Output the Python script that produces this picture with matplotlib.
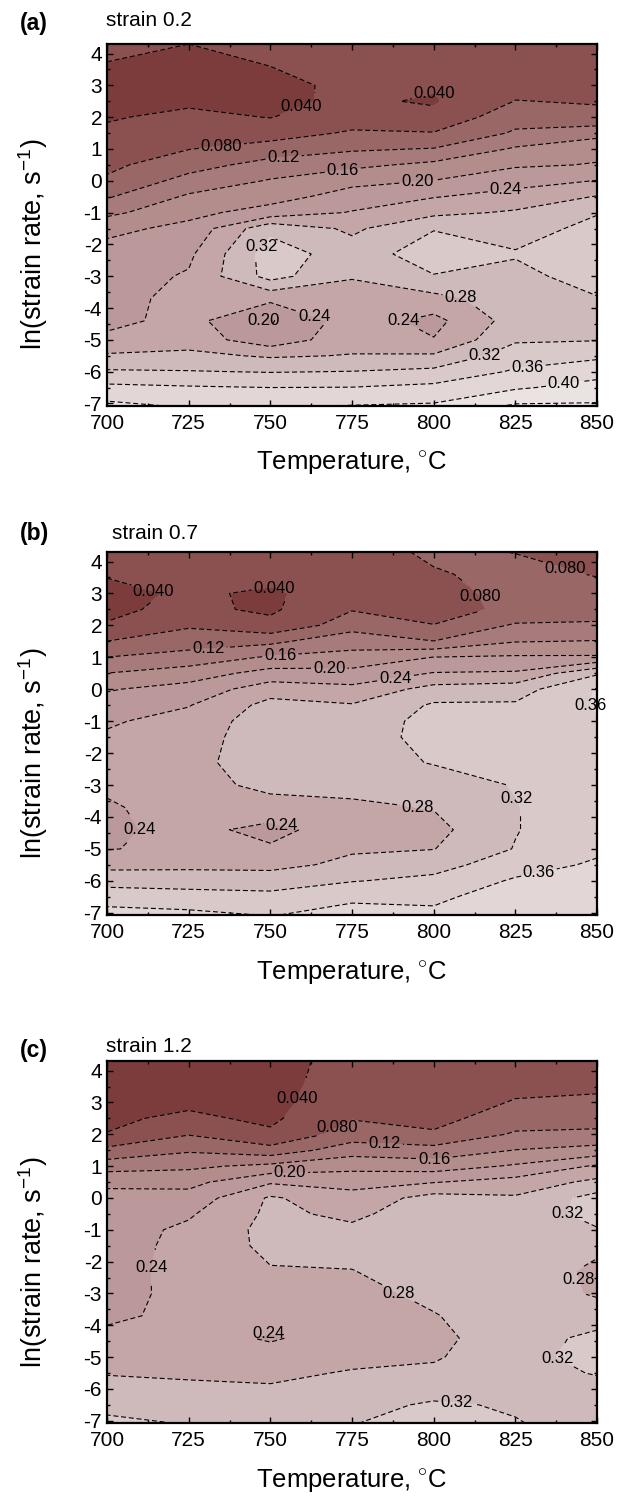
import numpy as np
import matplotlib
matplotlib.use("Agg")
import matplotlib.pyplot as plt
from matplotlib.ticker import MultipleLocator

plt.rcParams['font.family'] = ['Liberation Sans', 'DejaVu Sans']
plt.rcParams['mathtext.fontset'] = 'custom'
plt.rcParams['mathtext.rm'] = 'Liberation Sans'
plt.rcParams['axes.unicode_minus'] = False

# === Data (strain rate sensitivity m) ===
TEMPS = [700, 725, 750, 775, 800, 825, 850]
LN_RATE = [-7.07, -6.5, -6.0, -5.5, -5.0, -4.4, -3.7, -3.0, -2.3, -1.5, -1.0,
           -0.5, 0.0, 0.5, 1.0, 1.5, 2.0, 2.5, 3.0, 3.6, 4.3]

# columns are temperatures, listed from the top row (ln rate 4.3) down to -7.07
M_02_COLS = [
    [.048, .038, .032, .033, .037, .046, .058, .071, .086, .116, .150, .190, .215, .222, .226, .228, .250, .285, .325, .370, .410],
    [.040, .031, .027, .034, .048, .062, .079, .104, .134, .166, .190, .210, .232, .244, .252, .254, .262, .290, .322, .364, .395],
    [.046, .040, .034, .033, .039, .062, .098, .135, .163, .186, .215, .310, .340, .335, .250, .195, .215, .275, .318, .360, .395],
    [.050, .048, .045, .046, .060, .085, .115, .150, .190, .215, .243, .272, .300, .283, .262, .260, .265, .282, .321, .361, .401],
    [.055, .050, .044, .036, .050, .082, .122, .170, .201, .238, .270, .318, .340, .318, .268, .228, .242, .285, .330, .370, .405],
    [.062, .060, .068, .081, .105, .125, .165, .195, .225, .255, .285, .305, .323, .310, .300, .298, .315, .341, .365, .395, .445],
    [.065, .066, .070, .077, .090, .145, .190, .202, .241, .282, .318, .330, .345, .335, .318, .305, .318, .352, .385, .415, .445],
]
M_07_COLS = [
    [.050, .042, .032, .034, .042, .0805, .1205, .1605, .197, .215, .235, .245, .252, .247, .235, .232, .238, .268, .305, .342, .375],
    [.052, .048, .044, .048, .075, .102, .135, .180, .215, .238, .255, .262, .268, .266, .258, .252, .250, .270, .303, .335, .370],
    [.055, .048, .036, .034, .050, .110, .165, .215, .262, .293, .302, .303, .302, .290, .265, .228, .245, .268, .302, .330, .358],
    [.060, .058, .055, .078, .100, .150, .168, .215, .250, .283, .302, .305, .305, .293, .272, .262, .275, .290, .318, .352, .375],
    [.088, .076, .068, .066, .081, .121, .201, .242, .295, .325, .330, .330, .322, .302, .282, .268, .279, .305, .330, .355, .365],
    [.079, .092, .090, .088, .125, .158, .205, .245, .302, .325, .335, .341, .335, .322, .318, .318, .322, .342, .365, .372, .381],
    [.074, .078, .092, .105, .125, .162, .205, .315, .363, .363, .358, .356, .354, .352, .350, .350, .352, .366, .375, .381, .385],
]
M_12_COLS = [
    [.030, .028, .030, .034, .041, .090, .142, .193, .210, .218, .222, .225, .226, .228, .234, .248, .262, .278, .292, .310, .328],
    [.028, .027, .033, .047, .078, .115, .152, .188, .215, .235, .248, .250, .252, .250, .248, .255, .265, .274, .288, .305, .318],
    [.028, .030, .032, .033, .046, .095, .170, .235, .285, .288, .292, .290, .277, .265, .255, .236, .255, .272, .284, .302, .312],
    [.052, .054, .058, .078, .098, .142, .188, .225, .255, .272, .287, .292, .279, .268, .262, .258, .270, .283, .295, .308, .319],
    [.052, .054, .058, .068, .085, .135, .180, .238, .295, .302, .305, .303, .298, .289, .278, .270, .276, .288, .305, .325, .330],
    [.062, .068, .083, .100, .125, .161, .205, .255, .285, .302, .310, .312, .308, .304, .302, .302, .305, .308, .312, .316, .322],
    [.072, .074, .085, .105, .128, .175, .245, .290, .335, .330, .318, .290, .270, .275, .302, .330, .335, .322, .310, .305, .305],
]

STRAINS = ["strain 0.2", "strain 0.7", "strain 1.2"]
TAGS = ["(a)", "(b)", "(c)"]

LEVELS = [0.04, 0.08, 0.12, 0.16, 0.20, 0.24, 0.28, 0.32, 0.36, 0.40, 0.44]
LEVEL_FMT = {0.04: "0.040", 0.08: "0.080", 0.12: "0.12", 0.16: "0.16", 0.20: "0.20",
             0.24: "0.24", 0.28: "0.28", 0.32: "0.32", 0.36: "0.36", 0.40: "0.40", 0.44: "0.44"}

# label anchor points (T, ln rate) for each map
LABEL_POS = [
    [(759, 2.43), (800, 2.75), (735, 1.1), (754, 0.75), (772, 0.45), (795, -0.05),
     (822, -0.24), (750, -2.3), (765, -3.85), (744, -4.44), (785, -4.44),
     (808, -3.77), (816, -5.6), (829, -6.13), (840, -6.5)],
    [(714, 3.0), (751, 3.13), (811, 2.75), (840, 3.75), (731, 1.39), (753, 1.12),
     (768, 0.79), (788, 0.47), (843, -0.45), (714, -4.45), (754, -4.06),
     (795, -3.8), (824, -3.5), (832, -5.64)],
    [(757, 3.17), (770, 2.33), (785, 1.75), (800, 1.3), (756, 0.82), (722, -2.36),
     (749, -4.1), (789, -3.04), (839, -0.59), (837, -2.8), (836, -5.4), (807, -6.32)],
]

band_colors = ["#7d3c3c", "#8b5151", "#9a6767", "#a77b7b", "#b38c8c", "#bb9899",
               "#c4a6a7", "#cfbabb", "#d9c9c9", "#e2d6d6", "#ebe2e2", "#f2ecec"]
fill_levels = [0.0] + LEVELS + [1.0]

# === Plot ===
fig = plt.figure(figsize=(6.22, 14.97), dpi=100)
axes_boxes = [[0.172, 0.729, 0.788, 0.2416],
              [0.172, 0.3888, 0.788, 0.2425],
              [0.172, 0.0494, 0.788, 0.2418]]
tag_y = [0.980, 0.6393, 0.2941]
strain_xy = [(0.1704, 0.9826), (0.180, 0.6397), (0.1704, 0.2975)]

for i, cols in enumerate([M_02_COLS, M_07_COLS, M_12_COLS]):
    ax = fig.add_axes(axes_boxes[i])
    Z = np.array(cols).T[::-1]  # rows follow LN_RATE (bottom to top)

    ax.contourf(TEMPS, LN_RATE, Z, levels=fill_levels, colors=band_colors)
    cs = ax.contour(TEMPS, LN_RATE, Z, levels=LEVELS, colors="black",
                    linewidths=0.8, linestyles=[(0, (4.5, 2.5))])
    labels = ax.clabel(cs, fmt=LEVEL_FMT, manual=LABEL_POS[i], fontsize=12,
                       inline=True, inline_spacing=2)
    for t in labels:
        t.set_rotation(0)
        t.set_clip_on(False)

    ax.set_xlim(700, 850)
    ax.set_ylim(-7.07, 4.3)
    ax.xaxis.set_major_locator(MultipleLocator(25))
    ax.xaxis.set_minor_locator(MultipleLocator(12.5))
    ax.yaxis.set_major_locator(MultipleLocator(1))
    ax.yaxis.set_minor_locator(MultipleLocator(0.5))
    ax.tick_params(which="both", direction="in", top=True, right=True, width=1.0)
    ax.tick_params(which="major", length=4.5, labelsize=15)
    ax.tick_params(axis="x", which="major", pad=6)
    ax.tick_params(axis="y", which="major", pad=3.5)
    ax.tick_params(which="minor", length=2.5)
    for sp in ax.spines.values():
        sp.set_linewidth(1.6)

    ax.set_xlabel(r"Temperature, $^{\circ}$C", fontsize=18.5)
    ax.set_ylabel(r"ln(strain rate, s$^{-1}$)", fontsize=19.5)
    ax.xaxis.set_label_coords(0.5, -0.122)
    ax.yaxis.set_label_coords(-0.116, 0.445)

    fig.text(0.032, tag_y[i], TAGS[i], fontsize=16.5, fontweight="bold",
             va="baseline", ha="left")
    fig.text(strain_xy[i][0], strain_xy[i][1], STRAINS[i], fontsize=15,
             va="baseline", ha="left")

fig.savefig("out.png", dpi=100)
